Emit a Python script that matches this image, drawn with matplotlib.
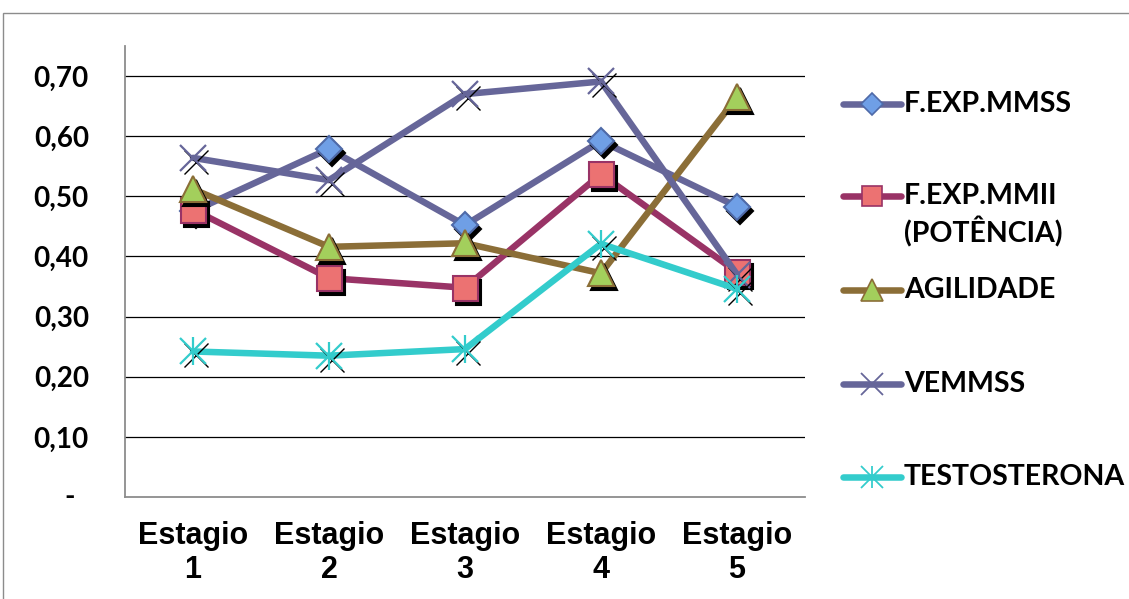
import numpy as np
import matplotlib
matplotlib.use("Agg")
import matplotlib.pyplot as plt
import matplotlib.transforms as mtransforms
from matplotlib.lines import Line2D
from matplotlib.patches import Rectangle

# stage labels and series values
stages = ["Estagio\n1", "Estagio\n2", "Estagio\n3", "Estagio\n4", "Estagio\n5"]
f_exp_mmss = [0.475, 0.579, 0.452, 0.592, 0.483]
f_exp_mmii = [0.478, 0.364, 0.348, 0.537, 0.374]
agilidade = [0.512, 0.416, 0.422, 0.372, 0.665]
vemmss = [0.564, 0.527, 0.670, 0.691, 0.370]
testosterona = [0.242, 0.235, 0.246, 0.421, 0.346]
series_names = ["F.EXP.MMSS", "F.EXP.MMII\n(POTÊNCIA)", "AGILIDADE", "VEMMSS", "TESTOSTERONA"]
yticks = [0.1, 0.2, 0.3, 0.4, 0.5, 0.6, 0.7]

W, H = 1129, 599
fig = plt.figure(figsize=(W / 100, H / 100), dpi=100)
ax = fig.add_axes([125 / W, 1 - 497 / H, 680 / W, 451 / H])

# chart border
fig.add_artist(Rectangle((3 / W, -0.1), 1.1, 1 - 13 / H + 0.1, transform=fig.transFigure,
                         fill=False, edgecolor="#8c8c8c", lw=1.0))

x = np.arange(len(stages))
lw = 4.7

styles = [
    dict(color="#666699", marker="D", ms=13.5, mfc="#6f9fe6", mec="#4f6aa8", mew=1.5),
    dict(color="#993366", marker="s", ms=18, mfc="#ec7272", mec="#993366", mew=1.5),
    dict(color="#8b6e37", marker="^", ms=19, mfc="#a3cf5c", mec="#8b6e37", mew=1.5),
    dict(color="#666699", marker="x", ms=19, mfc="none", mec="#666699", mew=1.6),
    dict(color="#33cccc", marker="x", ms=19, mfc="none", mec="#33cccc", mew=1.6),
]
data = [f_exp_mmss, f_exp_mmii, agilidade, vemmss, testosterona]

shadow = mtransforms.offset_copy(ax.transData, fig=fig, x=3, y=-4, units="dots")

for i, (vals, st) in enumerate(zip(data, styles)):
    z = 3 + i * 3
    thin = st["marker"] == "x"
    ax.plot(x, vals, color=st["color"], lw=lw, solid_capstyle="round", zorder=z)
    # drop shadow under the markers
    ax.plot(x, vals, ls="none", marker=st["marker"], ms=st["ms"] * (0.9 if thin else 1),
            mfc="black", mec="black", mew=1.0 if thin else st["mew"],
            transform=shadow, zorder=z + 0.5)
    ax.plot(x, vals, ls="none", marker=st["marker"], ms=st["ms"], mfc=st["mfc"],
            mec=st["mec"], mew=st["mew"], zorder=z + 1)
    if i == 4:
        ax.plot(x, vals, ls="none", marker="|", ms=st["ms"] * 1.05, mec=st["mec"],
                mew=st["mew"], zorder=z + 1)

ax.set_xlim(-0.5, len(stages) - 0.5)
ax.set_ylim(0, 0.75)
ax.set_xticks(x)
ax.set_xticklabels(stages, fontfamily="Liberation Sans", fontweight="bold",
                   fontsize=22, linespacing=1.2)
ax.set_yticks(yticks)
ax.set_yticklabels([f"{v:.2f}".replace(".", ",") for v in yticks],
                   fontfamily="Lato", fontweight="bold", fontsize=20)
ax.tick_params(axis="y", length=0, pad=26)
ax.tick_params(axis="x", length=0, pad=17)
ax.annotate("-", xy=(0, 0), xycoords=("axes fraction", "data"), xytext=(-40, 0),
            textcoords="offset points", ha="center", va="center",
            fontfamily="Lato", fontweight="bold", fontsize=20)

for v in yticks:
    ax.axhline(v, color="black", lw=0.9, zorder=1)
for s in ["top", "right"]:
    ax.spines[s].set_visible(False)
for s in ["left", "bottom"]:
    ax.spines[s].set_color("#8c8c8c")
    ax.spines[s].set_linewidth(1.3)

# legend drawn by hand on the right
leg_y = [104, 215, 290, 384, 477]
for name, st, yy in zip(series_names, styles, leg_y):
    ly = 1 - yy / H
    if "\n" in name:
        ly_line = 1 - 196 / H
    else:
        ly_line = ly
    fig.add_artist(Line2D([843 / W, 901 / W], [ly_line, ly_line], transform=fig.transFigure,
                          color=st["color"], lw=lw, solid_capstyle="round"))
    mk = st["marker"]
    fig.add_artist(Line2D([872 / W], [ly_line], transform=fig.transFigure, ls="none",
                          marker=mk, ms=st["ms"] * 0.8, mfc=st["mfc"], mec=st["mec"],
                          mew=st["mew"] * 0.8))
    if name == "TESTOSTERONA":
        fig.add_artist(Line2D([872 / W], [ly_line], transform=fig.transFigure, ls="none",
                              marker="|", ms=st["ms"] * 0.85, mec=st["mec"], mew=st["mew"] * 0.8))
    fig.text(904 / W, ly, name, ha="left", va="center", fontfamily="Lato",
             fontweight="bold", fontsize=20.5, linespacing=1.3)

fig.savefig("out.png", dpi=100)
